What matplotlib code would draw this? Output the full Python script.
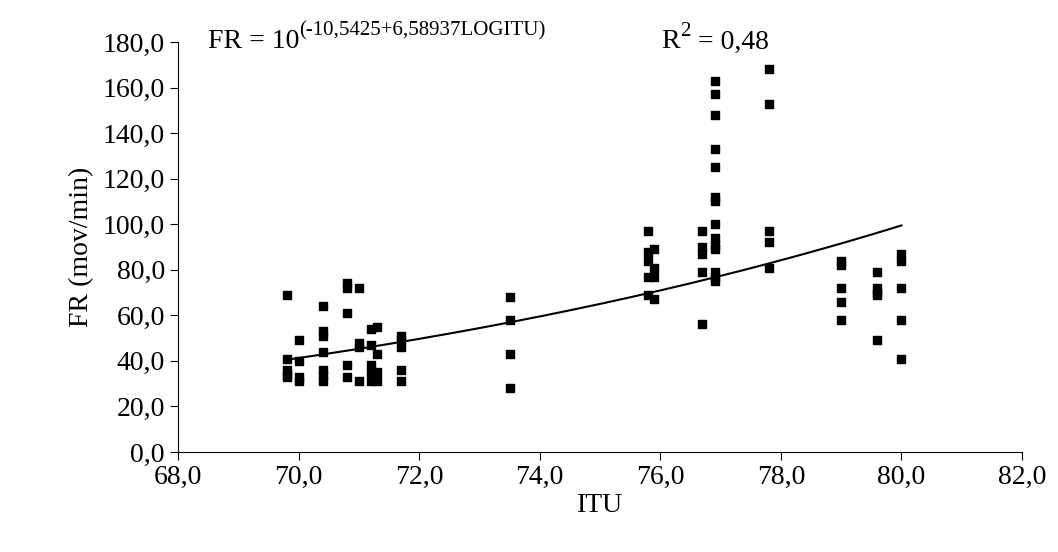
import numpy as np
import matplotlib.pyplot as plt

plt.rcParams['font.family'] = ['Liberation Serif', 'DejaVu Serif']

itu_groups = [69.8, 70.0, 70.4, 70.8, 71.0, 71.2, 71.3, 71.7, 73.5, 75.8, 75.9,
              76.7, 76.9, 77.8, 79.0, 79.6, 80.0]
fr_groups = [
    [69, 41, 36, 34, 33],
    [49, 40, 33, 31],
    [64, 53, 51, 44, 36, 34, 31],
    [74, 72, 61, 38, 33],
    [72, 48, 46, 31],
    [54, 47, 38, 35, 31],
    [55, 43, 35, 31],
    [51, 49, 46, 36, 31],
    [68, 58, 43, 28],
    [97, 88, 84, 77, 69],
    [89, 81, 77, 67],
    [97, 90, 87, 79, 56],
    [163, 157, 148, 133, 125, 112, 110, 100, 94, 91, 89, 79, 77, 75],
    [168, 153, 97, 92, 81],
    [84, 82, 72, 66, 58],
    [79, 72, 70, 69, 49],
    [87, 84, 72, 58, 41],
]
a, b = -10.5425, 6.58937

x = np.concatenate([[g] * len(v) for g, v in zip(itu_groups, fr_groups)])
y = np.concatenate(fr_groups)

fig = plt.figure(figsize=(10.58, 5.52), dpi=100)
ax = fig.add_axes([178/1058, 1-452/552, (1022-178)/1058, (452-42)/552])
ax.scatter(x, y, marker='s', s=30, color='black', zorder=3)
xs = np.linspace(min(itu_groups), max(itu_groups), 200)
ax.plot(xs, 10 ** (a + b * np.log10(xs)), color='black', lw=1.5)

ax.set_xlim(68, 82)
ax.set_ylim(0, 180)
ax.set_xticks(np.arange(68, 83, 2))
ax.set_yticks(np.arange(0, 181, 20))
ax.set_xticklabels([f"{v:.1f}".replace('.', ',') for v in np.arange(68, 83, 2)])
ax.set_yticklabels([f"{v:.1f}".replace('.', ',') for v in np.arange(0, 181, 20)])
ax.tick_params(labelsize=20, direction='out', length=6)
for s in ['top', 'right']:
    ax.spines[s].set_visible(False)
ax.set_xlabel('ITU', fontsize=20, labelpad=2)
ax.set_ylabel('FR (mov/min)', fontsize=20, labelpad=6)

t1 = ax.text(0.035, 1.0, 'FR = 10', transform=ax.transAxes, fontsize=20, va='center')
ax.annotate('(-10,5425+6,58937LOGITU)', xy=(1, 0.55), xycoords=t1, fontsize=15,
            va='bottom', ha='left')
t2 = ax.text(0.573, 1.0, 'R', transform=ax.transAxes, fontsize=20, va='center')
t3 = ax.annotate('2', xy=(1, 0.55), xycoords=t2, fontsize=15, va='bottom')
ax.annotate(' = 0,48', xy=(1, 0), xycoords=(t3, t2), fontsize=20, va='bottom')
fig.savefig('out.png')
